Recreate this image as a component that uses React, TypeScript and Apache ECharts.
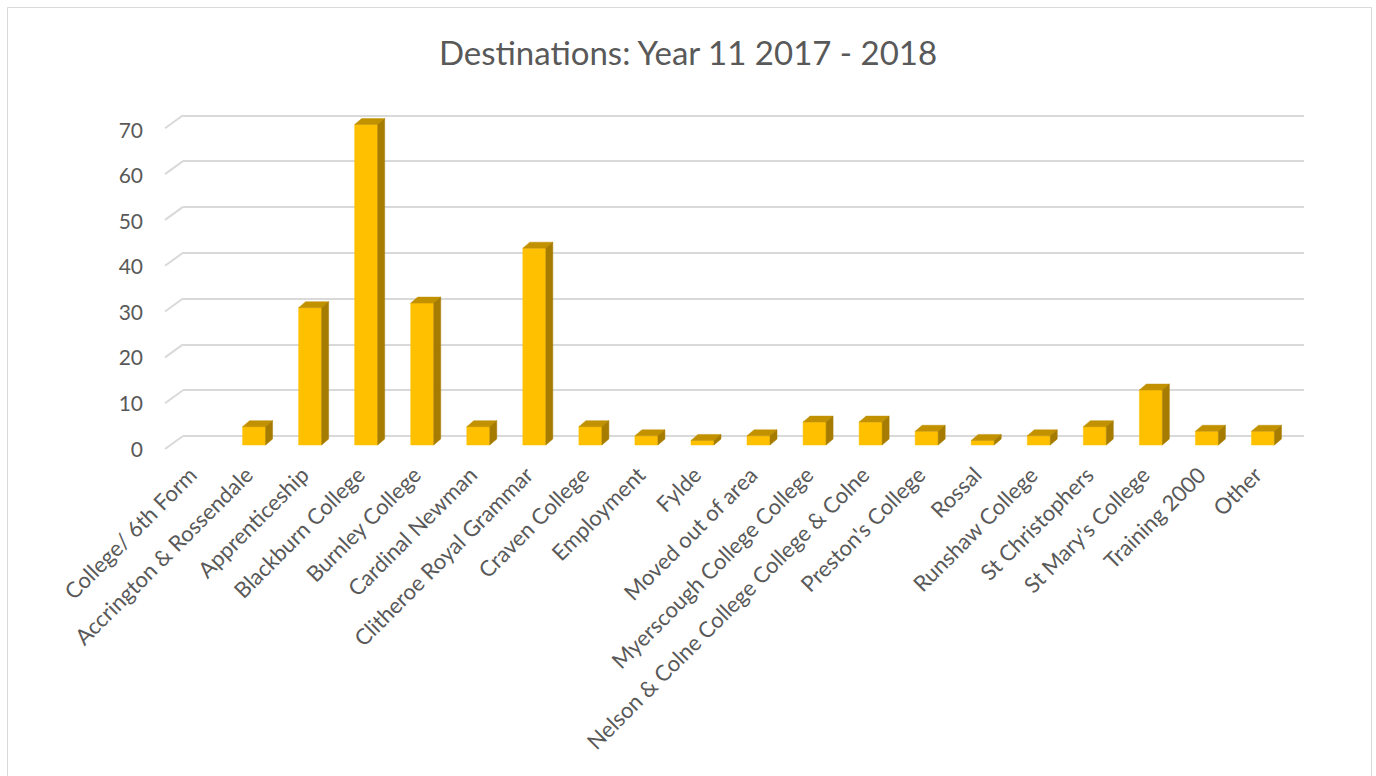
import React, { useEffect, useRef } from "react";
import * as echarts from "echarts";

const categories = [
  "College/ 6th Form",
  "Accrington & Rossendale",
  "Apprenticeship",
  "Blackburn College",
  "Burnley College",
  "Cardinal Newman",
  "Clitheroe Royal Grammar",
  "Craven College",
  "Employment",
  "Fylde",
  "Moved out of area",
  "Myerscough College College",
  "Nelson & Colne College College & Colne",
  "Preston's College",
  "Rossal",
  "Runshaw College",
  "St Christophers",
  "St Mary's College",
  "Training 2000",
  "Other",
];
const values = [0, 4, 30, 70, 31, 4, 43, 4, 2, 1, 2, 5, 5, 3, 1, 2, 4, 12, 3, 3];
const tickValues = [0, 10, 20, 30, 40, 50, 60, 70];
const titleText = "Destinations: Year 11 2017 - 2018";

const FONT = "Lato, 'Open Sans', sans-serif";
const TEXT = "#595959";

export default function App() {
  const ref = useRef<HTMLDivElement>(null);
  useEffect(() => {
    if (!ref.current) return;
    const chart = echarts.init(ref.current, null, { renderer: "svg" });
    const yCommon = { type: "value", min: 0, max: 70, interval: 10 };
    chart.setOption({
      animation: false,
      backgroundColor: "#ffffff",
      title: {
        text: titleText,
        left: "center",
        top: 30,
        textStyle: { fontFamily: FONT, fontSize: 33, fontWeight: "normal", color: TEXT },
      },
      graphic: [
        {
          type: "rect",
          shape: { x: 7.5, y: 7.5, width: 1364, height: 800 },
          style: { fill: "none", stroke: "#d9d9d9", lineWidth: 1 },
          silent: true,
        },
      ],
      grid: [
        { left: 170, width: 1121, top: 124.6, height: 320.4 },
        { left: 183, width: 1121, top: 115.3, height: 320.7 },
        { left: 165, width: 1121, top: 129, height: 319 },
      ],
      xAxis: [
        {
          type: "category",
          gridIndex: 0,
          data: categories,
          axisLine: { show: false },
          axisTick: { show: false },
          axisLabel: {
            interval: 0,
            rotate: 45,
            margin: 20,
            padding: [0, 8, 0, 0],
            color: TEXT,
            fontFamily: FONT,
            fontSize: 22,
          },
        },
        { type: "category", gridIndex: 1, data: categories, show: false },
        { type: "category", gridIndex: 2, data: categories, show: false },
      ],
      yAxis: [
        { ...yCommon, gridIndex: 0, show: false },
        {
          ...yCommon,
          gridIndex: 1,
          axisLine: { show: false },
          axisTick: { show: false },
          axisLabel: { show: false },
          splitLine: { show: true, lineStyle: { color: "#d9d9d9", width: 2 } },
        },
        {
          ...yCommon,
          gridIndex: 2,
          axisLine: { show: false },
          axisTick: { show: false },
          splitLine: { show: false },
          axisLabel: { color: TEXT, fontFamily: FONT, fontSize: 21, margin: 22 },
        },
      ],
      series: [
        {
          type: "custom",
          xAxisIndex: 1,
          yAxisIndex: 1,
          silent: true,
          data: tickValues.map((v) => [0, v]),
          encode: { x: 0, y: 1 },
          renderItem: (params: any, api: any) => {
            const p = api.coord([0, api.value(1)]);
            const x = params.coordSys.x;
            return {
              type: "line",
              shape: { x1: x, y1: p[1], x2: x - 18, y2: p[1] + 13 },
              style: { stroke: "#d9d9d9", lineWidth: 2 },
            };
          },
        },
        {
          type: "custom",
          xAxisIndex: 0,
          yAxisIndex: 0,
          data: values.map((v, i) => [i, v]),
          encode: { x: 0, y: 1 },
          renderItem: (params: any, api: any) => {
            const i = api.value(0);
            const v = api.value(1);
            if (!v) return null;
            const b = api.coord([i, 0]);
            const t = api.coord([i, v]);
            const w = 23;
            const dx = 7;
            const dy = 6;
            const x0 = b[0] - w / 2;
            const x1 = x0 + w;
            return {
              type: "group",
              children: [
                {
                  type: "polygon",
                  shape: { points: [[x0, t[1]], [x1, t[1]], [x1, b[1]], [x0, b[1]]] },
                  style: { fill: "#FFC000", stroke: "#FFC000", lineWidth: 0.5 },
                },
                {
                  type: "polygon",
                  shape: {
                    points: [[x0, t[1]], [x0 + dx, t[1] - dy], [x1 + dx, t[1] - dy], [x1, t[1]]],
                  },
                  style: { fill: "#C29100", stroke: "#C29100", lineWidth: 0.5 },
                },
                {
                  type: "polygon",
                  shape: {
                    points: [[x1, t[1]], [x1 + dx, t[1] - dy], [x1 + dx, b[1] - dy], [x1, b[1]]],
                  },
                  style: { fill: "#A67C00", stroke: "#A67C00", lineWidth: 0.5 },
                },
              ],
            };
          },
        },
      ],
    });
    return () => chart.dispose();
  }, []);
  return (
    <div
      ref={ref}
      style={{ position: "absolute", left: 0, top: 0, width: 1376, height: 776 }}
    />
  );
}
